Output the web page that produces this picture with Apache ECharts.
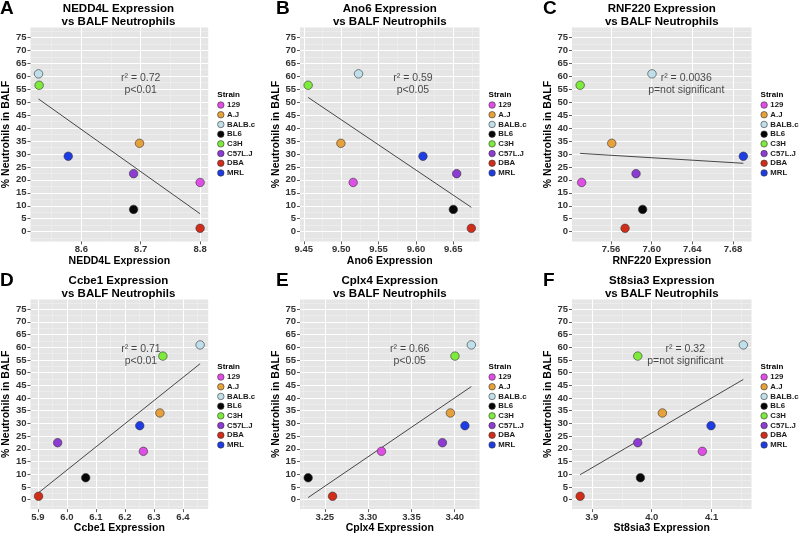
<!DOCTYPE html>
<html><head><meta charset="utf-8">
<script src="https://cdn.jsdelivr.net/npm/echarts@6/dist/echarts.min.js"></script>
<style>html,body{margin:0;padding:0;background:#fff}#c{width:799px;height:535px}</style>
</head><body><div id="c"></div>
<script>
// ---------- data ----------
const strains = ['129','A.J','BALB.c','BL6','C3H','C57L.J','DBA','MRL'];
const strainColors = ['#DE4FE6','#E6A03C','#BFE0EA','#050505','#7DEB3C','#8C3CD2','#D22D19','#1E3CE6'];
const neutrophils = [19.0, 34.1, 60.9, 8.6, 56.5, 22.4, 1.3, 29.1];

const genes = ['NEDD4L','Ano6','RNF220','Ccbe1','Cplx4','St8sia3'];
const panelLetters = ['A','B','C','D','E','F'];

const exprNEDD4L  = [8.800, 8.698, 8.528, 8.688, 8.529, 8.688, 8.800, 8.578];
const exprAno6    = [9.516, 9.4996, 9.5232, 9.650, 9.4558, 9.6545, 9.6741, 9.6094];
const exprRNF220  = [7.5311, 7.5607, 7.6003, 7.5911, 7.5296, 7.5846, 7.5738, 7.6902];
const exprCcbe1   = [6.2636, 6.3205, 6.4591, 6.0648, 6.3307, 5.9682, 5.9023, 6.2511];
const exprCplx4   = [3.3154, 3.3950, 3.4192, 3.2307, 3.4003, 3.3858, 3.2589, 3.4118];
const exprSt8sia3 = [4.0844, 4.0178, 4.1528, 3.9811, 3.9767, 3.9767, 3.8806, 4.0989];

// fitted line: y at lowest and highest expression value
const fitNEDD4L  = [51.2, 6.9];
const fitAno6    = [51.8, 9.4];
const fitRNF220  = [30.2, 26.4];
const fitCcbe1   = [2.7, 53.5];
const fitCplx4   = [0.8, 44.5];
const fitSt8sia3 = [9.8, 47.3];

const statsNEDD4L  = 'r\u00B2 = 0.72\np<0.01';
const statsAno6    = 'r\u00B2 = 0.59\np<0.05';
const statsRNF220  = 'r\u00B2 = 0.0036\np=not significant';
const statsCcbe1   = 'r\u00B2 = 0.71\np<0.01';
const statsCplx4   = 'r\u00B2 = 0.66\np<0.05';
const statsSt8sia3 = 'r\u00B2 = 0.32\np=not significant';

const xTicksNEDD4L  = ['8.6','8.7','8.8'];
const xTicksAno6    = ['9.45','9.50','9.55','9.60','9.65'];
const xTicksRNF220  = ['7.56','7.60','7.64','7.68'];
const xTicksCcbe1   = ['5.9','6.0','6.1','6.2','6.3','6.4'];
const xTicksCplx4   = ['3.25','3.30','3.35','3.40'];
const xTicksSt8sia3 = ['3.9','4.0','4.1'];
const yTicks = ['0','5','10','15','20','25','30','35','40','45','50','55','60','65','70','75'];

// ---------- layout ----------
const FONT = '"Liberation Sans", Arial, Helvetica, sans-serif';
const panels = [
  {expr: exprNEDD4L,  fit: fitNEDD4L,  stats: statsNEDD4L,  ticks: xTicksNEDD4L,  statX: 8.7,   split: 3, minor: true},
  {expr: exprAno6,    fit: fitAno6,    stats: statsAno6,    ticks: xTicksAno6,    statX: 9.596, split: 5, minor: true},
  {expr: exprRNF220,  fit: fitRNF220,  stats: statsRNF220,  ticks: xTicksRNF220,  statX: 7.634, split: 9, minor: false},
  {expr: exprCcbe1,   fit: fitCcbe1,   stats: statsCcbe1,   ticks: xTicksCcbe1,   statX: 6.255, split: 6, minor: true},
  {expr: exprCplx4,   fit: fitCplx4,   stats: statsCplx4,   ticks: xTicksCplx4,   statX: 3.348, split: 4, minor: true},
  {expr: exprSt8sia3, fit: fitSt8sia3, stats: statsSt8sia3, ticks: xTicksSt8sia3, statX: 4.056, split: 3, minor: true}
];
const colX = [0, 271.3, 543.3];
const rowY = [0, 272];
const letterX = [0, 276, 543];
const gridLeft = 28.7, gridW = 179.5, gridTop = 27.6, gridH = 213.8;
const statY = 57;

const yVals = yTicks.map(Number);
const yLo = Math.min(...yVals), yHi = Math.max(...yVals);
const yMin = yLo - 0.05 * (yHi - yLo), yMax = yHi + 0.05 * (yHi - yLo);

const grids = [], xAxes = [], yAxes = [], series = [], legends = [], graphics = [];

panels.forEach((p, i) => {
  const col = i % 3, row = Math.floor(i / 3);
  const ox = colX[col], oy = rowY[row];
  grids.push({left: ox + gridLeft, top: oy + gridTop, width: gridW, height: gridH,
    show: true, backgroundColor: '#E5E5E5', borderWidth: 0, borderColor: 'transparent'});
  const tickVals = p.ticks.map(Number);
  xAxes.push({
    gridIndex: i, type: 'value',
    min: v => v.min - 0.05 * (v.max - v.min),
    max: v => v.max + 0.05 * (v.max - v.min),
    splitNumber: p.split,
    name: genes[i] + ' Expression', nameLocation: 'middle', nameGap: 10,
    nameTextStyle: {fontFamily: FONT, fontSize: 10.5, fontWeight: 'bold', color: '#000'},
    axisLine: {show: false, onZero: false},
    axisTick: {show: true, length: 3, customValues: tickVals, lineStyle: {color: '#333', width: 0.8}},
    axisLabel: {customValues: tickVals, margin: 3, fontFamily: FONT, fontSize: 9.5, fontWeight: 'bold', color: '#333',
      formatter: v => { const k = tickVals.findIndex(t => Math.abs(t - v) < 1e-9); return k >= 0 ? p.ticks[k] : ''; }},
    splitLine: {show: true, lineStyle: {color: '#FFFFFF', width: 1}},
    minorTick: {show: false, splitNumber: 2},
    minorSplitLine: {show: p.minor, lineStyle: {color: '#F2F2F2', width: 0.5}}
  });
  yAxes.push({
    gridIndex: i, type: 'value', min: yMin, max: yMax, splitNumber: 16,
    name: '% Neutrohils in BALF', nameLocation: 'middle', nameGap: 11,
    nameTextStyle: {fontFamily: FONT, fontSize: 10.5, fontWeight: 'bold', color: '#000'},
    axisLine: {show: false, onZero: false},
    axisTick: {show: true, length: 3, customValues: yVals, lineStyle: {color: '#333', width: 0.8}},
    axisLabel: {customValues: yVals, margin: 4, fontFamily: FONT, fontSize: 9.5, fontWeight: 'bold', color: '#333'},
    splitLine: {show: true, lineStyle: {color: '#FFFFFF', width: 1}},
    minorTick: {show: false, splitNumber: 2},
    minorSplitLine: {show: true, lineStyle: {color: '#F2F2F2', width: 0.5}}
  });
  // fit line
  series.push({type: 'line', xAxisIndex: i, yAxisIndex: i, silent: true, z: 2,
    symbol: 'none', lineStyle: {color: '#333', width: 0.9},
    data: [[Math.min(...p.expr), p.fit[0]], [Math.max(...p.expr), p.fit[1]]]});
  // points
  strains.forEach((s, j) => {
    series.push({type: 'scatter', name: s, xAxisIndex: i, yAxisIndex: i, silent: true, z: 3,
      symbolSize: 8.5,
      itemStyle: {color: strainColors[j], borderColor: '#333', borderWidth: 0.6, opacity: 1},
      data: [[p.expr[j], neutrophils[j]]]});
  });
  // stats annotation
  series.push({type: 'scatter', xAxisIndex: i, yAxisIndex: i, silent: true, z: 4,
    symbolSize: 1, itemStyle: {color: 'rgba(0,0,0,0)'},
    label: {show: true, position: 'inside', formatter: p.stats, fontFamily: FONT, fontSize: 10.5,
      lineHeight: 12, color: '#1a1a1a'},
    data: [[p.statX, statY]]});
  legends.push({
    data: strains, orient: 'vertical', left: ox + 217.25, top: oy + 100.2, padding: 0, itemGap: 0,
    itemWidth: 6.5, itemHeight: 6.5, icon: 'circle', selectedMode: false,
    itemStyle: {borderColor: '#333', borderWidth: 0.6},
    textStyle: {fontFamily: FONT, fontSize: 7.8, fontWeight: 'bold', color: '#1a1a1a', lineHeight: 9.7,
      padding: [0, 0, 0, -2]}
  });
  graphics.push({type: 'text', x: ox + gridLeft + gridW / 2, y: oy + 2.5, silent: true,
    style: {text: genes[i] + ' Expression\nvs BALF Neutrophils', align: 'center', verticalAlign: 'top',
      fontFamily: FONT, fontSize: 11.5, fontWeight: 'bold', lineHeight: 13, fill: '#000'}});
  graphics.push({type: 'text', x: letterX[col], y: oy - 1, silent: true,
    style: {text: panelLetters[i], align: 'left', verticalAlign: 'top',
      fontFamily: FONT, fontSize: 19, fontWeight: 'bold', fill: '#000'}});
  graphics.push({type: 'text', x: ox + 217.3, y: oy + 90.5, silent: true,
    style: {text: 'Strain', align: 'left', verticalAlign: 'top',
      fontFamily: FONT, fontSize: 8, fontWeight: 'bold', fill: '#000'}});
});

const chart = echarts.init(document.getElementById('c'), null, {renderer: 'canvas'});
chart.setOption({
  animation: false,
  backgroundColor: '#FFFFFF',
  textStyle: {fontFamily: FONT},
  grid: grids, xAxis: xAxes, yAxis: yAxes, series: series, legend: legends, graphic: graphics
});
</script>
</body></html>
